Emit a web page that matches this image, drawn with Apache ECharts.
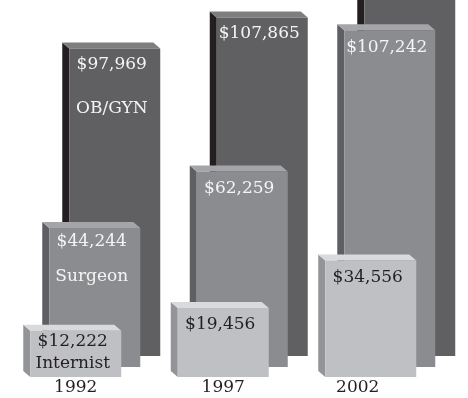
<!DOCTYPE html>
<html><head><meta charset="utf-8">
<script src="https://cdn.jsdelivr.net/npm/echarts@6/dist/echarts.min.js"></script>
<style>html,body{margin:0;padding:0;background:#fff}#c{width:468px;height:398px}</style>
</head><body><div id="c"></div>
<script>
const years = ['1992', '1997', '2002'];
const obgyn = [97969, 107865, 125000];
const surgeon = [44244, 62259, 107242];
const internist = [12222, 19456, 34556];
const seriesNames = ['OB/GYN', 'Surgeon', 'Internist'];

const FONT = '17px "DejaVu Serif"';
const layers = [
  { dx: 0,   dy: 0,  ext: 0, front: '#606062', side: '#231f20', top: '#7e7e81', text: '#f4f4f4', valOff: 16, firstValOff: 16, nameOff: 60 },
  { dx: -20, dy: 11, ext: 0, front: '#8b8c90', side: '#5e5f62', top: '#a4a5a8', text: '#f4f4f4', valOff: 17, firstValOff: 13, nameOff: 48 },
  { dx: -39, dy: 13, ext: 8, front: '#bfc0c4', side: '#939497', top: '#d9dadc', text: '#231f20', valOff: 17, firstValOff: 11, nameOff: 33 }
];

function fmt(v) { return '$' + v.toLocaleString('en-US'); }

function makeLayer(name, values, L) {
  return {
    type: 'custom',
    name: name,
    data: values.map((v, i) => [i, v]),
    encode: { x: 0, y: 1 },
    clip: false,
    renderItem: function (params, api) {
      const i = api.value(0), v = api.value(1);
      const top = api.coord([i, v]);
      const base = api.coord([i, 0]);
      const w = 91, dpx = 7, dpy = 6;
      const cx = top[0] + L.dx;
      const x0 = cx - w / 2, x1 = cx + w / 2;
      const yt = top[1] + L.dy, yb = base[1] + L.dy + L.ext;
      const children = [
        { type: 'polygon', shape: { points: [[x0 - dpx, yt - dpy], [x0, yt], [x0, yb], [x0 - dpx, yb - dpy]] }, style: { fill: L.side } },
        { type: 'polygon', shape: { points: [[x0 - dpx, yt - dpy], [x1 - dpx, yt - dpy], [x1, yt], [x0, yt]] }, style: { fill: L.top } },
        { type: 'rect', shape: { x: x0, y: yt, width: w, height: yb - yt }, style: { fill: L.front } }
      ];
      const first = params.dataIndex === 0;
      children.push({ type: 'text', style: { text: fmt(v), x: cx - 3, y: yt + (first ? L.firstValOff : L.valOff), align: 'center', verticalAlign: 'middle', fill: L.text, font: FONT } });
      if (first) {
        children.push({ type: 'text', style: { text: name, x: cx - 3, y: yt + L.nameOff, align: 'center', verticalAlign: 'middle', fill: L.text, font: FONT } });
      }
      return { type: 'group', children: children };
    }
  };
}

const chart = echarts.init(document.getElementById('c'), null, { renderer: 'canvas' });
chart.setOption({
  animation: false,
  backgroundColor: '#ffffff',
  grid: { left: 41, width: 442.5, bottom: 42, top: 0, containLabel: false, outerBoundsMode: 'none' },
  xAxis: {
    type: 'category', data: years, boundaryGap: true,
    axisLine: { show: false }, axisTick: { show: false }, splitLine: { show: false },
    axisLabel: {
      margin: 23,
      formatter: function (v) { return v === '2002' ? '{b|' + v + '}' : '{a|' + v + '}'; },
      rich: {
        a: { fontSize: 17, fontFamily: 'DejaVu Serif', color: '#231f20', padding: [0, 78, 0, 0] },
        b: { fontSize: 17, fontFamily: 'DejaVu Serif', color: '#231f20', padding: [0, 104, 0, 0] }
      }
    }
  },
  yAxis: { type: 'value', min: 0, max: 113400, show: false },
  series: [
    makeLayer(seriesNames[0], obgyn, layers[0]),
    makeLayer(seriesNames[1], surgeon, layers[1]),
    makeLayer(seriesNames[2], internist, layers[2])
  ]
});
</script></body></html>
